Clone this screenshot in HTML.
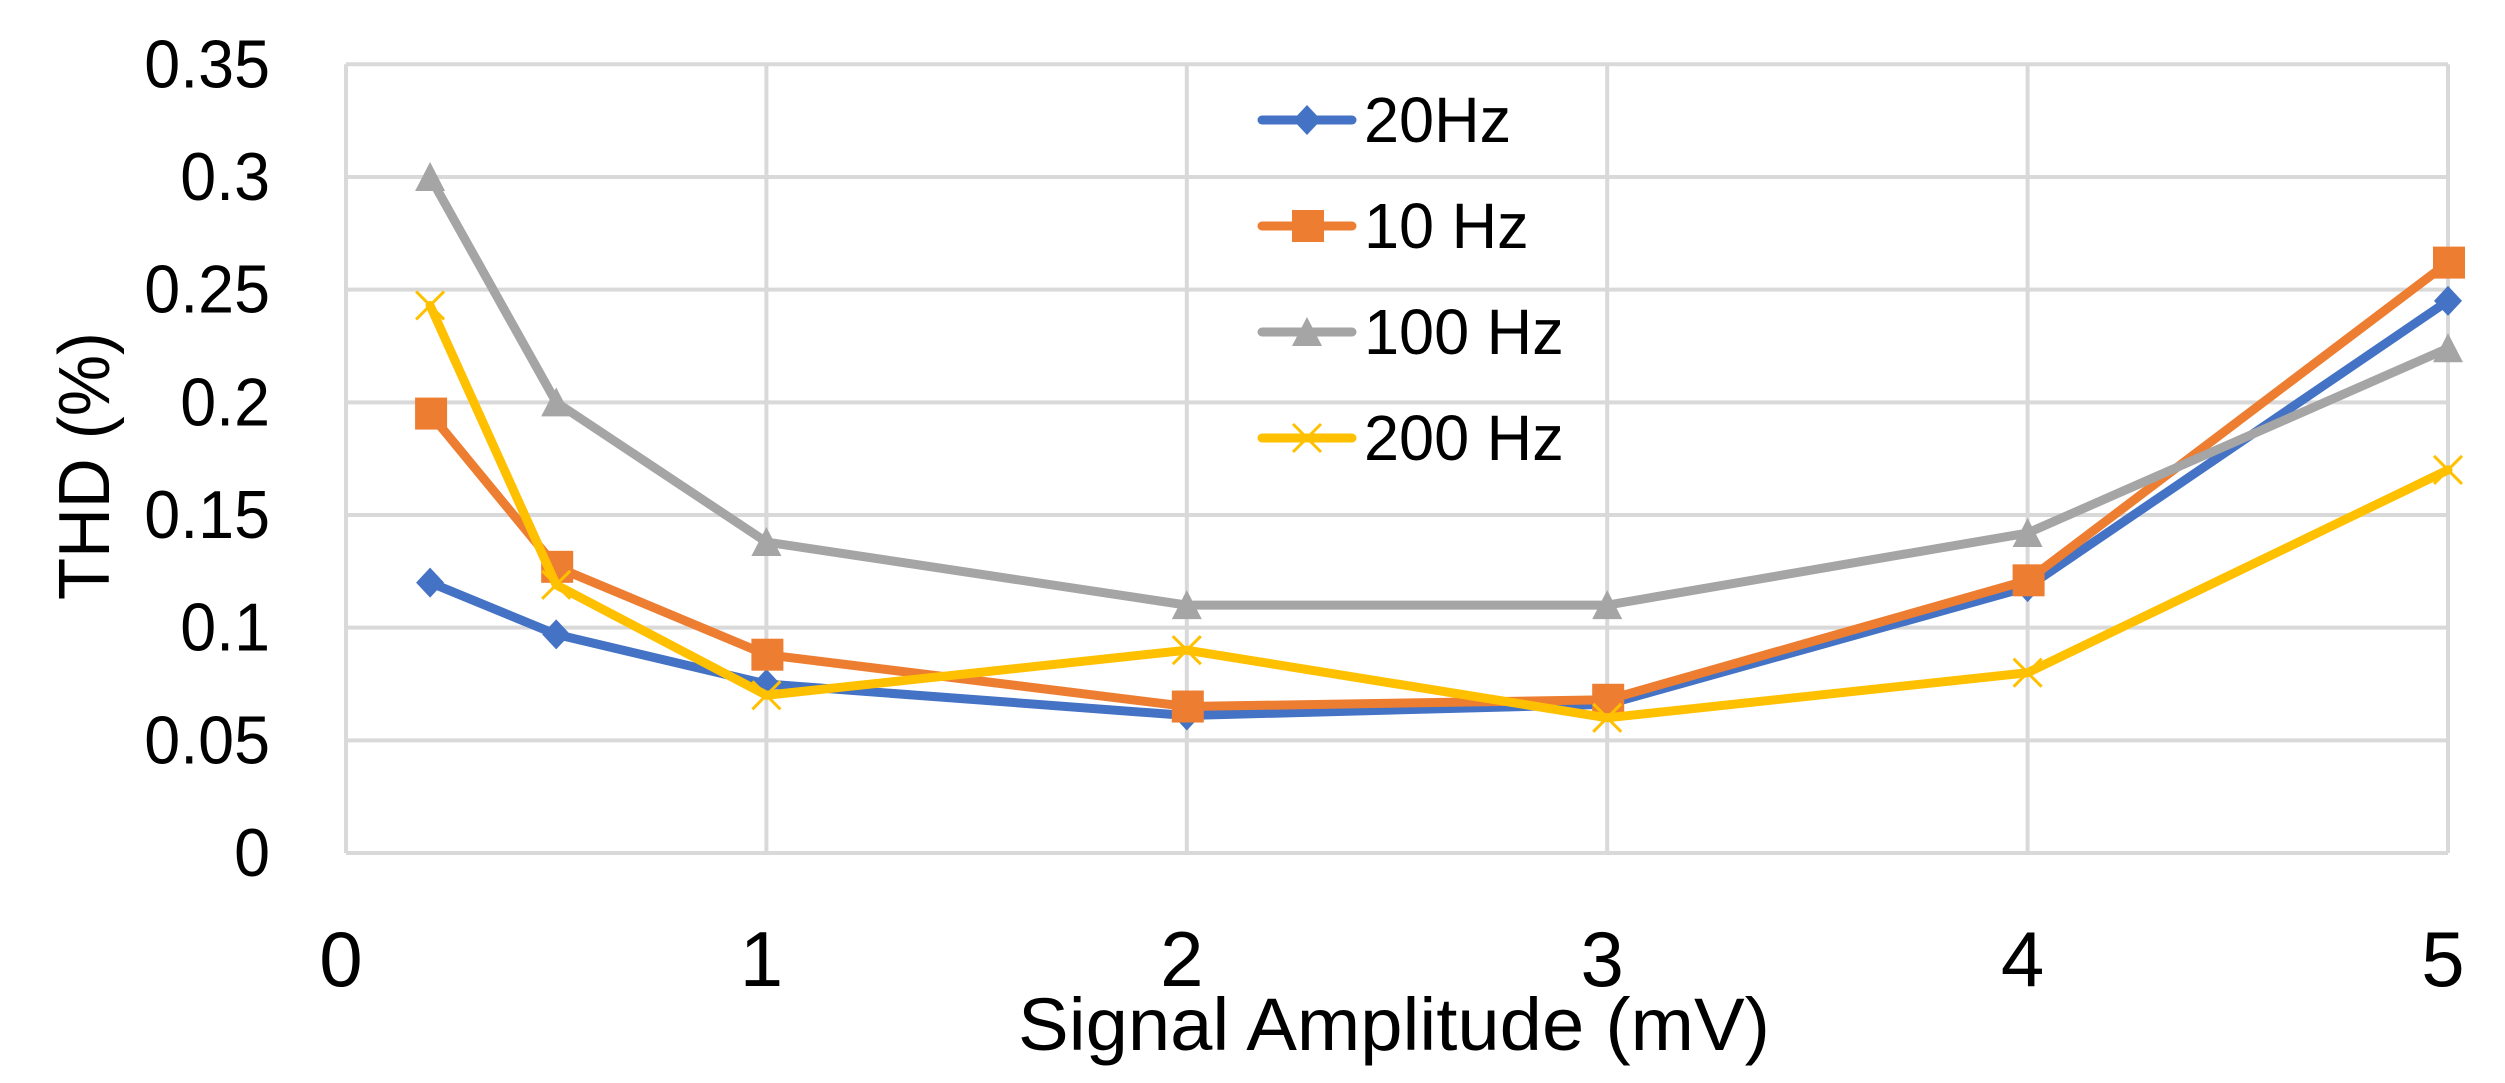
<!DOCTYPE html>
<html lang="en">
<head>
<meta charset="utf-8">
<title>THD vs Signal Amplitude</title>
<style>
html,body{margin:0;padding:0;background:#fff;width:2505px;height:1083px;overflow:hidden}
svg{display:block}
text{font-family:"Liberation Sans",sans-serif;fill:#000}
</style>
</head>
<body>
<svg id="chart" xmlns="http://www.w3.org/2000/svg" width="2505" height="1083" viewBox="0 0 2505 1083"></svg>
<script>
const xValues = [0.2, 0.5, 1, 2, 3, 4, 5];
const series20Hz = [0.12, 0.097, 0.075, 0.061, 0.066, 0.118, 0.245];
const series10Hz = [0.195, 0.127, 0.088, 0.065, 0.068, 0.121, 0.262];
const series100Hz = [0.3, 0.2, 0.138, 0.11, 0.11, 0.142, 0.224];
const series200Hz = [0.243, 0.119, 0.07, 0.09, 0.06, 0.08, 0.17];
const xTicks = [0, 1, 2, 3, 4, 5];
const yTicks = [0, 0.05, 0.1, 0.15, 0.2, 0.25, 0.3, 0.35];
const seriesNames = ['20Hz', '10 Hz', '100 Hz', '200 Hz'];

const NS = 'http://www.w3.org/2000/svg';
const svg = document.getElementById('chart');
const plot = {left: 346, right: 2448, top: 64.3, bottom: 853};
const xMax = 5, yMax = 0.35;
const xScale = v => plot.left + (v / xMax) * (plot.right - plot.left);
const yScale = v => plot.bottom - (v / yMax) * (plot.bottom - plot.top);

function make(tag, attrs, parent) {
  const el = document.createElementNS(NS, tag);
  for (const k in attrs) el.setAttribute(k, attrs[k]);
  (parent || svg).appendChild(el);
  return el;
}

function drawMarker(kind, cx, cy, color, parent) {
  let m;
  if (kind === 'diamond') {
    m = make('polygon', {points: `${cx},${cy-15} ${cx+14},${cy} ${cx},${cy+15} ${cx-14},${cy}`, fill: color}, parent);
  } else if (kind === 'square') {
    m = make('rect', {x: cx-15, y: cy-16, width: 32, height: 32, fill: color}, parent);
  } else if (kind === 'triangle') {
    m = make('polygon', {points: `${cx},${cy-15} ${cx+15},${cy+14} ${cx-15},${cy+14}`, fill: color}, parent);
  } else {
    m = make('path', {d: `M${cx-14},${cy-14}L${cx+14},${cy+14}M${cx-14},${cy+14}L${cx+14},${cy-14}`, stroke: color, 'stroke-width': 3, fill: 'none'}, parent);
  }
  
  
  return m;
}

const grid = make('g', {});


yTicks.forEach(t => {
  const l = make('line', {x1: plot.left, x2: plot.right, y1: yScale(t), y2: yScale(t), stroke: '#d9d9d9', 'stroke-width': 4}, grid);
  
  
});
xTicks.forEach(t => {
  const l = make('line', {x1: xScale(t), x2: xScale(t), y1: plot.top, y2: plot.bottom, stroke: '#d9d9d9', 'stroke-width': 4}, grid);
  
  
});

yTicks.forEach(t => {
  const y = yScale(t) + 23;
  const label = make('text', {transform: `translate(270,${y}) scale(0.95,1)`, 'text-anchor': 'end', 'font-size': 68});
  label.textContent = String(t);
  
  
});
xTicks.forEach(t => {
  const label = make('text', {x: xScale(t) - 5, y: 986, 'text-anchor': 'middle', 'font-size': 78});
  label.textContent = String(t);
  
  
});

const xTitle = make('text', {x: 1018, y: 1050, 'font-size': 74, textLength: 752, lengthAdjust: 'spacingAndGlyphs'});
xTitle.textContent = 'Signal Amplitude (mV)';



const yTitle = make('text', {transform: 'translate(109,600) rotate(-90)', 'font-size': 72, textLength: 268, lengthAdjust: 'spacingAndGlyphs'});
yTitle.textContent = 'THD (%)';



const allSeries = [series20Hz, series10Hz, series100Hz, series200Hz];
const colors = ['#4472c4', '#ed7d31', '#a5a5a5', '#ffc000'];
const kinds = ['diamond', 'square', 'triangle', 'cross'];

allSeries.forEach((vals, i) => {
  const g = make('g', {});
  
  
  const pts = vals.map((v, j) => xScale(xValues[j]) + ',' + yScale(v)).join(' ');
  const line = make('polyline', {points: pts, fill: 'none', stroke: colors[i], 'stroke-width': 9, 'stroke-linejoin': 'round', 'stroke-linecap': 'round'}, g);
  
  
  vals.forEach((v, j) => drawMarker(kinds[i], xScale(xValues[j]), yScale(v), colors[i], g));
});

const legend = make('g', {});


seriesNames.forEach((name, i) => {
  const cy = 120 + i * 106;
  const entry = make('g', {}, legend);
  
  
  const sw = make('line', {x1: 1262, x2: 1352, y1: cy, y2: cy, stroke: colors[i], 'stroke-width': 9, 'stroke-linecap': 'round'}, entry);
  
  
  drawMarker(kinds[i], 1307, cy, colors[i], entry);
  const t = make('text', {transform: `translate(1364,${cy + 22}) scale(0.985,1)`, 'font-size': 64}, entry);
  t.textContent = name;
  
  
});
</script>
</body>
</html>
